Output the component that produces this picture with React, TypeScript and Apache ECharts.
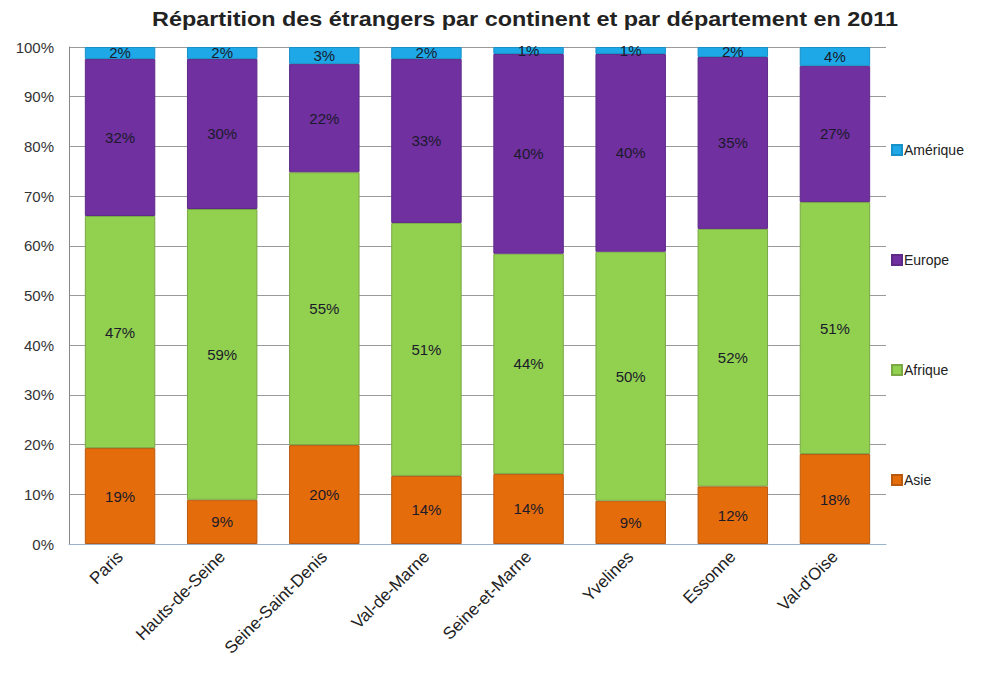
import React, { useEffect, useRef } from "react";
import * as echarts from "echarts";

const title = "Répartition des étrangers par continent et par département en 2011";
const categories = ["Paris", "Hauts-de-Seine", "Seine-Saint-Denis", "Val-de-Marne", "Seine-et-Marne", "Yvelines", "Essonne", "Val-d'Oise"];
const asie = [19.3, 8.9, 19.9, 13.7, 14.1, 8.7, 11.6, 18.1];
const afrique = [46.7, 58.5, 54.9, 50.9, 44.3, 50.1, 51.8, 50.7];
const europe = [31.6, 30.2, 21.8, 33.0, 40.2, 39.8, 34.6, 27.4];
const amerique = [2.4, 2.4, 3.4, 2.4, 1.4, 1.4, 2.0, 3.8];
const legendOrder = ["Amérique", "Europe", "Afrique", "Asie"];

const FONT = "Liberation Sans, Arial, sans-serif";

export default function App() {
  const ref = useRef<HTMLDivElement>(null);
  useEffect(() => {
    if (!ref.current) return;
    const chart = echarts.init(ref.current, null, { renderer: "svg" });
    const mk = (name: string, data: number[], color: string, border: string) => ({
      name,
      type: "bar",
      stack: "total",
      data,
      barCategoryGap: "31%",
      itemStyle: { color, borderColor: border, borderWidth: 1 },
      label: {
        show: true,
        position: "inside",
        formatter: (p: any) => Math.round(p.value) + "%",
        color: "#1a1a2a",
        fontSize: 15,
        fontFamily: FONT,
      },
    });
    const legendTops = [138, 248, 358, 468];
    chart.setOption({
      animation: false,
      backgroundColor: "#ffffff",
      graphic: [
        {
          type: "text",
          x: 525,
          y: 9,
          scaleX: 1.17,
          style: {
            text: title,
            x: 0,
            y: 0,
            textAlign: "center",
            textVerticalAlign: "top",
            font: "bold 20px " + FONT,
            fill: "#222",
          },
        },
      ],
      legend: legendOrder.map((n, i) => ({
        data: [n],
        left: 886,
        top: legendTops[i],
        itemWidth: 10,
        itemHeight: 10,
        itemGap: 4,
        icon: "rect",
        textStyle: { fontSize: 14, color: "#222", fontFamily: FONT, padding: [0, 0, 0, -3] },
        selectedMode: false,
      })),
      grid: { left: 69, right: 101, top: 47, bottom: 133, containLabel: false },
      xAxis: {
        type: "category",
        data: categories,
        axisLine: { lineStyle: { color: "#9ab3cc", width: 1 } },
        axisTick: { show: false },
        axisLabel: {
          rotate: 45,
          interval: 0,
          fontSize: 17,
          color: "#222",
          fontFamily: FONT,
          margin: 10,
        },
      },
      yAxis: {
        type: "value",
        min: 0,
        max: 100,
        interval: 10,
        axisLine: { show: true, lineStyle: { color: "#888" } },
        axisTick: { show: false },
        splitLine: { lineStyle: { color: "#9a9a9a", width: 1 } },
        axisLabel: { formatter: "{value}%", fontSize: 15, color: "#333", fontFamily: FONT, margin: 15 },
      },
      series: [
        mk("Asie", asie, "#e46c0a", "#b85a10"),
        mk("Afrique", afrique, "#92d050", "#7aa844"),
        mk("Europe", europe, "#7030a0", "#5e2a88"),
        mk("Amérique", amerique, "#1ea8e8", "#1890c8"),
      ],
    });
    return () => chart.dispose();
  }, []);
  return <div ref={ref} style={{ position: "absolute", left: 0, top: 0, width: 987, height: 677 }} />;
}
